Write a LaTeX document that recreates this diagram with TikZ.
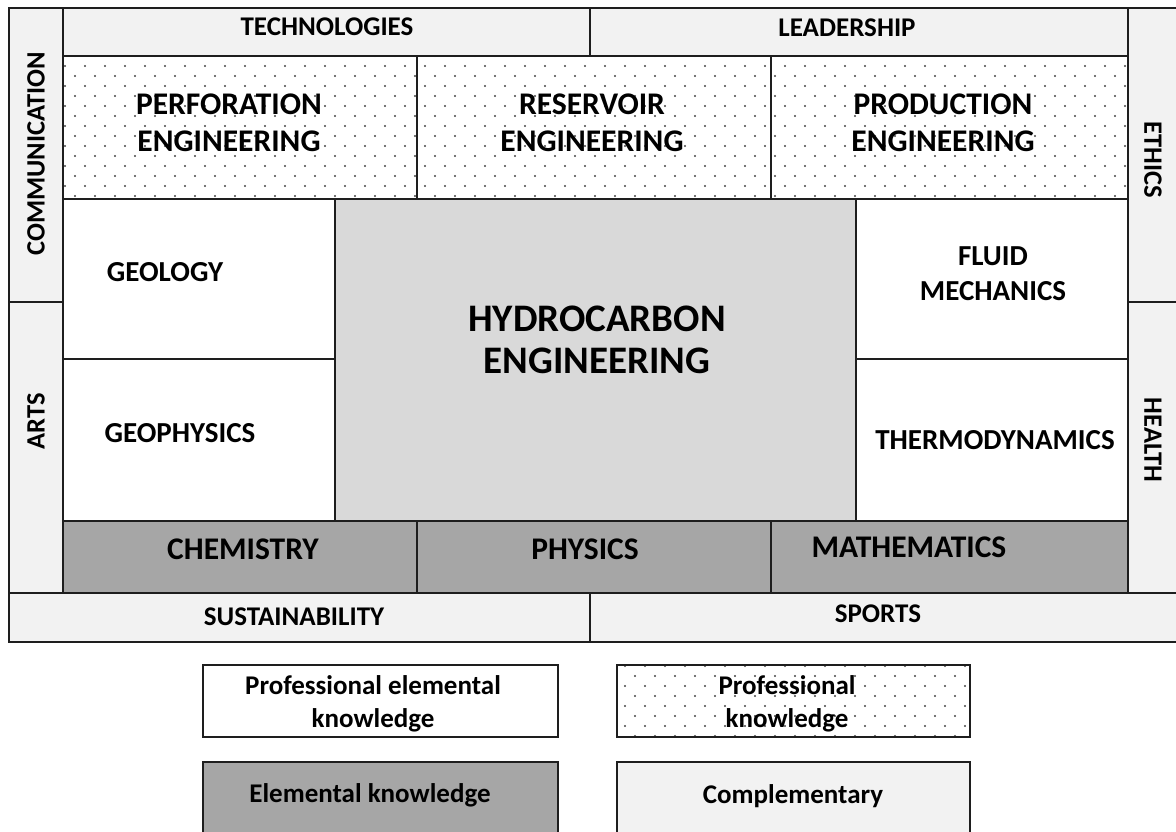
\documentclass[tikz,border=0pt]{standalone}
\usepackage{fontspec}
\setmainfont{Carlito}
\usepackage{tikz}
\usetikzlibrary{patterns}
\definecolor{complgray}{RGB}{242, 242, 242}
\definecolor{coregray}{RGB}{217, 217, 217}
\definecolor{elemgray}{RGB}{166, 166, 166}
\definecolor{framegray}{RGB}{30, 30, 30}
\definecolor{dotgray}{RGB}{70, 70, 70}

\pgfdeclarepatternformonly{smalldots}{\pgfqpoint{-1pt}{-1pt}}{\pgfqpoint{21pt}{21pt}}{\pgfqpoint{20pt}{20pt}}{%
  \pgfpathcircle{\pgfqpoint{5pt}{5pt}}{1.1pt}%
  \pgfpathcircle{\pgfqpoint{15pt}{15pt}}{1.1pt}%
  \pgfusepath{fill}%
}

\begin{document}
\begin{tikzpicture}[x=1pt, y=-1pt,
  cell/.style={draw=framegray, line width=2.2pt},
  compl/.style={cell, fill=complgray},
  prof/.style={cell, preaction={fill=white}, pattern=smalldots, pattern color=dotgray},
  profelem/.style={cell, fill=white},
  elem/.style={cell, fill=elemgray},
  core/.style={cell, fill=coregray},
  lbl/.style={font=\bfseries\fontsize{27}{32}\selectfont, align=center, inner sep=0pt},
  midlbl/.style={lbl, font=\bfseries\fontsize{29}{35}\selectfont},
  biglbl/.style={lbl, font=\bfseries\fontsize{31.5}{37}\selectfont},
  sidelbl/.style={font=\bfseries\fontsize{26.5}{30}\selectfont, inner sep=0pt},
  keylbl/.style={font=\bfseries\fontsize{27}{33}\selectfont, align=center, inner sep=0pt}
]
  \useasboundingbox (0,0) rectangle (1176,831);
  \clip (0,0) rectangle (1176,831);

  % complementary frame
  \draw[compl] (9,8) rectangle (63,302);
  \draw[compl] (9,302) rectangle (63,593);
  \draw[compl] (63,8) rectangle (590,56);
  \draw[compl] (590,8) rectangle (1128,56);
  \draw[compl] (1128,8) rectangle (1190,302);
  \draw[compl] (1128,302) rectangle (1190,593);
  \draw[compl] (9,593) rectangle (590,642);
  \draw[compl] (590,593) rectangle (1190,642);

  % professional knowledge
  \draw[prof] (63,56) rectangle (417,199);
  \draw[prof] (417,56) rectangle (771,199);
  \draw[prof] (771,56) rectangle (1128,199);

  % professional elemental knowledge
  \draw[profelem] (63,199) rectangle (335,359);
  \draw[profelem] (63,359) rectangle (335,521);
  \draw[profelem] (856,199) rectangle (1128,359);
  \draw[profelem] (856,359) rectangle (1128,521);

  \draw[core] (335,199) rectangle (856,521);

  % elemental knowledge
  \draw[elem] (63,521) rectangle (417,593);
  \draw[elem] (417,521) rectangle (771,593);
  \draw[elem] (771,521) rectangle (1128,593);

  % key
  \draw[profelem] (203,665) rectangle (558,737);
  \draw[prof] (617,665) rectangle (970,737);
  \draw[elem] (203,762) rectangle (558,850);
  \draw[compl] (617,762) rectangle (970,850);

  \node[lbl] (tech) at (327,27) {TECHNOLOGIES};
  \node[lbl] (lead) at (847,28) {LEADERSHIP};
  \node[sidelbl, rotate=90] (comm) at (36,154) {COMMUNICATION};
  \node[sidelbl, rotate=90] (arts) at (36,421) {ARTS};
  \node[sidelbl, rotate=-90] (ethics) at (1153,160) {ETHICS};
  \node[sidelbl, rotate=-90] (health) at (1153,440) {HEALTH};
  \node[lbl] (sust) at (294,617) {SUSTAINABILITY};
  \node[lbl] (sports) at (878,614) {SPORTS};

  \node[biglbl] (perf) at (229,123) {PERFORATION\\ENGINEERING};
  \node[biglbl] (res) at (592,123) {RESERVOIR\\ENGINEERING};
  \node[biglbl] (prod) at (943,123) {PRODUCTION\\ENGINEERING};

  \node[midlbl] (geol) at (165,272) {GEOLOGY};
  \node[midlbl] (geoph) at (180,433) {GEOPHYSICS};
  \node[midlbl] (fluid) at (993,274) {FLUID\\MECHANICS};
  \node[midlbl] (thermo) at (995,440) {THERMODYNAMICS};

  \node[lbl, font=\bfseries\fontsize{39}{42}\selectfont] (hydro) at (597,340) {HYDROCARBON\\ENGINEERING};

  \node[biglbl] (chem) at (243,549) {CHEMISTRY};
  \node[biglbl] (phys) at (585,549) {PHYSICS};
  \node[biglbl] (math) at (909,547) {MATHEMATICS};

  \node[keylbl] (keyprofelem) at (373,704) {Professional elemental\\knowledge};
  \node[keylbl] (keyprof) at (787,704) {Professional\\knowledge};
  \node[keylbl] (keyelem) at (370,795) {Elemental knowledge};
  \node[keylbl] (keycompl) at (793,796) {Complementary};
\end{tikzpicture}
\end{document}
